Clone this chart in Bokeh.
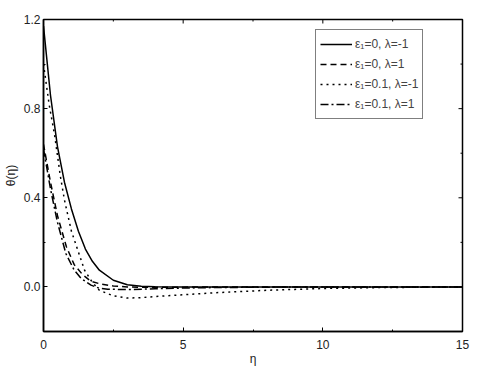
import math
from bokeh.plotting import figure
from bokeh.models import (FixedTicker, PrintfTickFormatter, Range1d, Legend, LegendItem)
from bokeh.embed import file_html
from bokeh.resources import INLINE

# ---- data ----
eta_a = [0, 0.25, 0.5, 0.75, 1.0, 1.25, 1.5, 1.75, 2.0, 2.5, 3.0, 3.5, 4.0, 5.0, 15.0]
theta_a = [1.17, 0.86, 0.63, 0.47, 0.35, 0.25, 0.17, 0.115, 0.075, 0.03, 0.01, 0.003, 0.001, 0.0, 0.0]

eta_b = [0, 0.25, 0.35, 0.5, 0.82, 1.1, 1.4, 1.7, 2.08, 2.5, 3.0, 3.5, 4.0, 5.0, 6.0, 15.0]
theta_b = [0.64, 0.47, 0.41, 0.32, 0.18, 0.10, 0.055, 0.025, 0.012, 0.004, 0.0, -0.002, -0.002, -0.001, 0.0, 0.0]

eta_c = [0, 0.2, 0.4, 0.6, 0.75, 1.0, 1.23, 1.47, 1.75, 2.0, 2.5, 3.0, 3.5, 4.0, 5.0, 6.0, 7.0, 8.0, 9.0, 10.0, 11.0, 12.0, 13.0, 14.0, 15.0]
theta_c = [1.0, 0.82, 0.68, 0.5, 0.39, 0.25, 0.164, 0.075, 0.02, -0.015, -0.04, -0.05, -0.048, -0.043, -0.035, -0.027, -0.021, -0.015, -0.011, -0.007, -0.005, -0.003, -0.002, -0.001, 0.0]

eta_d = [0, 0.25, 0.35, 0.5, 0.8, 1.1, 1.35, 1.7, 2.0, 2.3, 3.0, 4.0, 5.0, 6.0, 8.0, 10.0, 15.0]
theta_d = [0.62, 0.44, 0.38, 0.29, 0.15, 0.075, 0.038, 0.008, -0.006, -0.01, -0.012, -0.008, -0.005, -0.003, -0.001, 0.0, 0.0]

labels = ["\u03b5\u2081=0, \u03bb=-1", "\u03b5\u2081=0, \u03bb=1",
          "\u03b5\u2081=0.1, \u03bb=-1", "\u03b5\u2081=0.1, \u03bb=1"]

x_major = [0, 5, 10, 15]
x_minor = [2.5, 7.5, 12.5]
y_major = [0.0, 0.4, 0.8, 1.2]
y_minor = [-0.2, 0.2, 0.6, 1.0]
x_lim = (0, 15)
y_lim = (-0.2, 1.2)

FONT = "Liberation Sans"

p = figure(width=478, height=368, output_backend="svg", toolbar_location=None,
           x_range=Range1d(*x_lim), y_range=Range1d(*y_lim),
           min_border_left=42, min_border_top=19, min_border_right=16, min_border_bottom=36,
           x_axis_label="\u03b7", y_axis_label="\u03b8(\u03b7)")
p.grid.visible = False
p.outline_line_color = "black"
p.outline_line_width = 1.5
p.background_fill_color = "white"
p.border_fill_color = "white"

p.xaxis.ticker = FixedTicker(ticks=x_major, minor_ticks=x_minor)
p.yaxis.ticker = FixedTicker(ticks=y_major, minor_ticks=y_minor)
p.yaxis.formatter = PrintfTickFormatter(format="%.1f")

for ax in p.axis:
    ax.axis_line_color = "black"
    ax.axis_line_width = 1.5
    ax.major_tick_in = 4
    ax.major_tick_out = 0
    ax.minor_tick_in = 2
    ax.minor_tick_out = 0
    ax.major_tick_line_color = "black"
    ax.minor_tick_line_color = "black"
    ax.major_label_text_font = FONT
    ax.major_label_text_font_size = "12px"
    ax.major_label_text_color = "#222222"
    ax.axis_label_text_font = FONT
    ax.axis_label_text_font_size = "12px"
    ax.axis_label_text_font_style = "normal"
    ax.axis_label_text_color = "#222222"
p.xaxis.major_label_standoff = 8
p.xaxis.axis_label_standoff = 0
p.yaxis.major_label_standoff = 3
p.yaxis.axis_label_standoff = 3

# ticks on the top and right frame edges (clipped to the frame, so only the inner half shows)
p.scatter(x_major, [y_lim[1]] * len(x_major), marker="dash", size=8, angle=math.pi / 2,
          line_color="black", line_width=1)
p.scatter(x_minor, [y_lim[1]] * len(x_minor), marker="dash", size=4, angle=math.pi / 2,
          line_color="black", line_width=1)
p.scatter([x_lim[1]] * len(y_major), y_major, marker="dash", size=8,
          line_color="black", line_width=1)
p.scatter([x_lim[1]] * len(y_minor), y_minor, marker="dash", size=4,
          line_color="black", line_width=1)

r1 = p.line(eta_a, theta_a, line_color="black", line_width=1.5)
r2 = p.line(eta_b, theta_b, line_color="black", line_width=1.5, line_dash="6 4")
r3 = p.line(eta_c, theta_c, line_color="black", line_width=1.5, line_dash="2 4")
r4 = p.line(eta_d, theta_d, line_color="black", line_width=1.5, line_dash="8 3 2 3")

legend = Legend(items=[LegendItem(label=labels[i], renderers=[r]) for i, r in enumerate([r1, r2, r3, r4])],
                location=(272, 212))
legend.border_line_color = "black"
legend.border_line_width = 1
legend.label_text_font = FONT
legend.label_text_font_size = "12px"
legend.glyph_width = 32
legend.glyph_height = 20
legend.label_height = 20
legend.label_standoff = 3
legend.spacing = 0
legend.padding = 4
legend.margin = 0
legend.background_fill_alpha = 1
p.add_layout(legend, "center")

open("out.html", "w").write(file_html(p, INLINE))
